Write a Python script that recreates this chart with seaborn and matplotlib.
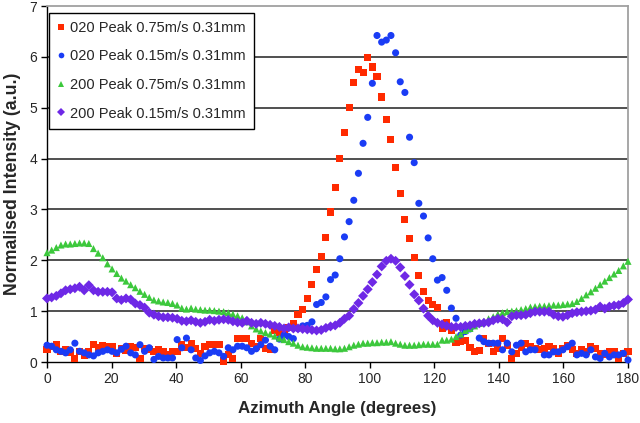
import numpy as np
import pandas as pd
import seaborn as sns
import matplotlib.pyplot as plt

# azimuth sampling grid (degrees)
angles = np.linspace(0, 180, 126)

# 020 Peak 0.75m/s 0.31mm  (red squares)
peak020_fast = [
    0.25, 0.31, 0.34, 0.21, 0.24, 0.18, 0.06, 0.21, 0.12, 0.20,
    0.35, 0.29, 0.32, 0.31, 0.31, 0.16, 0.26, 0.22, 0.31, 0.29,
    0.06, 0.26, 0.24, 0.20, 0.24, 0.21, 0.15, 0.21, 0.21, 0.34,
    0.28, 0.37, 0.26, 0.17, 0.30, 0.35, 0.34, 0.34, 0.02, 0.14,
    0.07, 0.46, 0.46, 0.46, 0.37, 0.30, 0.46, 0.27, 0.24, 0.63,
    0.58, 0.60, 0.67, 0.76, 0.94, 1.03, 1.25, 1.52, 1.82, 2.08,
    2.45, 2.95, 3.43, 4.01, 4.51, 5.00, 5.49, 5.76, 5.69, 5.99,
    5.80, 5.62, 5.21, 4.77, 4.37, 3.82, 3.31, 2.81, 2.42, 2.06,
    1.70, 1.39, 1.21, 1.13, 1.07, 0.66, 0.77, 0.63, 0.39, 0.41,
    0.43, 0.29, 0.20, 0.22, 0.46, 0.37, 0.20, 0.27, 0.46, 0.33,
    0.07, 0.17, 0.28, 0.37, 0.30, 0.26, 0.24, 0.27, 0.30, 0.27,
    0.17, 0.26, 0.33, 0.24, 0.17, 0.25, 0.20, 0.30, 0.27, 0.17,
    0.14, 0.20, 0.20, 0.07, 0.17, 0.20,
]

# 020 Peak 0.15m/s 0.31mm  (blue circles)
peak020_slow = [
    0.33, 0.31, 0.24, 0.21, 0.18, 0.24, 0.37, 0.21, 0.18, 0.14,
    0.12, 0.18, 0.21, 0.24, 0.21, 0.18, 0.25, 0.31, 0.18, 0.14,
    0.34, 0.21, 0.28, 0.05, 0.11, 0.08, 0.08, 0.08, 0.44, 0.28,
    0.47, 0.24, 0.08, 0.03, 0.12, 0.18, 0.21, 0.18, 0.11, 0.28,
    0.24, 0.31, 0.31, 0.28, 0.21, 0.26, 0.34, 0.43, 0.31, 0.24,
    0.45, 0.53, 0.50, 0.46, 0.66, 0.71, 0.72, 0.79, 1.13, 1.17,
    1.28, 1.62, 1.71, 2.03, 2.46, 2.76, 3.18, 3.71, 4.30, 4.81,
    5.48, 6.42, 6.29, 6.33, 6.42, 6.08, 5.51, 5.30, 4.42, 3.92,
    3.12, 2.87, 2.44, 2.03, 1.61, 1.66, 1.41, 1.06, 0.86, 0.53,
    0.60, 0.65, 0.72, 0.47, 0.40, 0.37, 0.37, 0.37, 0.24, 0.37,
    0.20, 0.33, 0.37, 0.20, 0.24, 0.24, 0.40, 0.14, 0.14, 0.20,
    0.20, 0.24, 0.30, 0.37, 0.14, 0.17, 0.14, 0.24, 0.10, 0.07,
    0.17, 0.10, 0.14, 0.14, 0.17, 0.04,
]

# 200 Peak 0.75m/s 0.31mm  (green triangles)
peak200_fast = [
    2.15, 2.20, 2.25, 2.30, 2.32, 2.32, 2.33, 2.34, 2.34, 2.33,
    2.23, 2.14, 2.05, 1.93, 1.83, 1.74, 1.65, 1.59, 1.52, 1.46,
    1.39, 1.33, 1.27, 1.22, 1.20, 1.18, 1.17, 1.15, 1.12, 1.06,
    1.04, 1.06, 1.04, 1.03, 1.02, 1.02, 1.01, 1.00, 0.99, 0.97,
    0.94, 0.91, 0.87, 0.79, 0.71, 0.65, 0.61, 0.58, 0.55, 0.51,
    0.47, 0.44, 0.40, 0.37, 0.33, 0.30, 0.29, 0.28, 0.27, 0.27,
    0.27, 0.27, 0.26, 0.26, 0.27, 0.30, 0.33, 0.35, 0.37, 0.37,
    0.38, 0.38, 0.39, 0.39, 0.40, 0.37, 0.35, 0.33, 0.33, 0.33,
    0.34, 0.35, 0.35, 0.35, 0.35, 0.43, 0.43, 0.45, 0.50, 0.55,
    0.62, 0.66, 0.71, 0.76, 0.80, 0.85, 0.89, 0.94, 0.97, 0.99,
    1.00, 1.01, 1.03, 1.05, 1.08, 1.09, 1.10, 1.10, 1.11, 1.12,
    1.12, 1.13, 1.14, 1.15, 1.19, 1.25, 1.32, 1.38, 1.45, 1.52,
    1.59, 1.66, 1.73, 1.80, 1.89, 1.98,
]

# 200 Peak 0.15m/s 0.31mm  (purple diamonds)
peak200_slow = [
    1.25, 1.27, 1.30, 1.35, 1.41, 1.43, 1.45, 1.48, 1.41, 1.51,
    1.41, 1.38, 1.38, 1.38, 1.37, 1.25, 1.22, 1.25, 1.23, 1.15,
    1.12, 1.07, 0.97, 0.93, 0.90, 0.88, 0.88, 0.87, 0.85, 0.81,
    0.80, 0.82, 0.79, 0.77, 0.79, 0.83, 0.81, 0.83, 0.84, 0.83,
    0.80, 0.78, 0.77, 0.81, 0.77, 0.75, 0.77, 0.75, 0.73, 0.71,
    0.69, 0.66, 0.68, 0.66, 0.66, 0.65, 0.64, 0.63, 0.62, 0.63,
    0.67, 0.70, 0.72, 0.77, 0.85, 0.91, 1.04, 1.16, 1.30, 1.43,
    1.57, 1.72, 1.88, 1.99, 2.03, 1.99, 1.86, 1.69, 1.52, 1.33,
    1.21, 1.05, 0.91, 0.82, 0.77, 0.74, 0.71, 0.69, 0.69, 0.69,
    0.71, 0.72, 0.75, 0.76, 0.77, 0.78, 0.82, 0.85, 0.84, 0.78,
    0.90, 0.92, 0.92, 0.93, 0.96, 0.99, 0.99, 0.99, 0.99, 0.93,
    0.90, 0.89, 0.92, 0.96, 0.98, 0.99, 1.00, 1.01, 1.03, 1.09,
    1.05, 1.09, 1.11, 1.12, 1.16, 1.23,
]

series_labels = ['020 Peak 0.75m/s 0.31mm', '020 Peak 0.15m/s 0.31mm',
                 '200 Peak 0.75m/s 0.31mm', '200 Peak 0.15m/s 0.31mm']
series_values = [peak020_fast, peak020_slow, peak200_fast, peak200_slow]
colors = ['#ff2a00', '#1a3cf5', '#3cc83c', '#6e28e6']
markers = ['s', 'o', '^', 'D']

# long table, later series drawn on top (like the original)
df = pd.concat([pd.DataFrame({'angle': angles, 'intensity': vals, 'series': lab})
                for lab, vals in zip(series_labels, series_values)],
               ignore_index=True)

sns.set_style('white')
plt.rcParams['font.family'] = ['Liberation Sans', 'DejaVu Sans']

fig = plt.figure(figsize=(6.4, 4.23), dpi=100)
ax = fig.add_axes([47 / 640, 61 / 423, 581 / 640, 356 / 423])

sns.scatterplot(data=df, x='angle', y='intensity', hue='series', style='series',
                palette=dict(zip(series_labels, colors)),
                markers=dict(zip(series_labels, markers)),
                s=26, linewidth=0, ax=ax, clip_on=False, zorder=3)

ax.set_xlim(0, 180)
ax.set_ylim(0, 7)
ax.set_xticks(range(0, 181, 20))
ax.set_yticks(range(0, 8))
ax.tick_params(axis='both', direction='out', length=4, width=1, color='black',
               labelsize=10, pad=3, left=True, bottom=True)

# horizontal grid lines only at 1..6
ax.yaxis.grid(True, color='#202020', linewidth=1.1)
ax.set_axisbelow(True)
grid = ax.get_ygridlines()
grid[0].set_visible(False)
grid[-1].set_visible(False)

for side in ['left', 'bottom']:
    ax.spines[side].set_color('black')
    ax.spines[side].set_linewidth(1)
for side in ['top', 'right']:
    ax.spines[side].set_color('#a0a0a0')
    ax.spines[side].set_linewidth(1.3)

ax.set_xlabel('Azimuth Angle (degrees)', fontsize=12.2, fontweight='bold', labelpad=11)
ax.set_ylabel('Normalised Intensity (a.u.)', fontsize=12.8, fontweight='bold', labelpad=6)

handles, lbls = ax.get_legend_handles_labels()
leg = ax.legend(handles, lbls, loc='upper left', bbox_to_anchor=(0.003, 0.981),
                borderaxespad=0, frameon=True, fancybox=False, framealpha=1,
                edgecolor='black', fontsize=10.5, labelspacing=1.0,
                handlelength=0.6, handletextpad=0.3, borderpad=0.55,
                markerscale=0.8)
leg.get_frame().set_linewidth(1)

plt.savefig('out.png', dpi=100)
